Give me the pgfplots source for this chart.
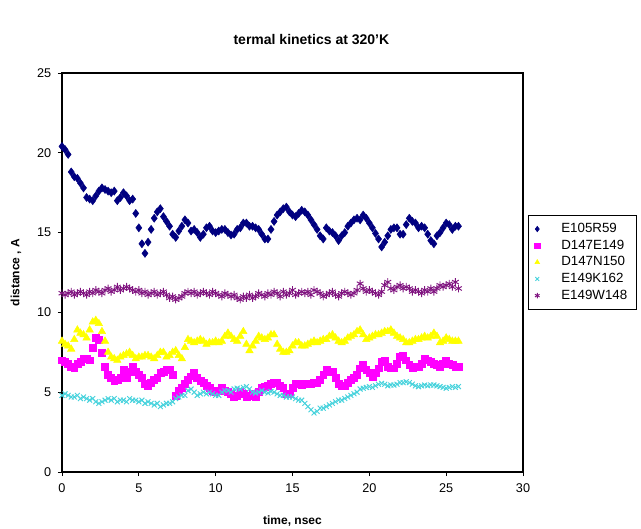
\documentclass[border=0pt]{standalone}
\usepackage{pgfplots}
\pgfplotsset{compat=1.18}
\usepackage{pgfplotstable}
\usepackage{fontspec}
\setmainfont{Liberation Sans}

\definecolor{sNavy}{RGB}{0,0,128}
\definecolor{sMag}{RGB}{255,0,255}
\definecolor{sYel}{RGB}{255,255,0}
\definecolor{sCyan}{RGB}{70,210,220}
\definecolor{sPur}{RGB}{128,20,128}

% time (nsec), then distance (A) for each pair
\pgfplotstableread{
t    E105R59 D147E149 D147N150 E149K162 E149W148
0.0  20.4  7.0   8.2  4.8   11.2
0.2  20.2  6.9   8.0  4.9   11.1
0.4  19.9  6.8   7.9  4.8   11.2
0.6  18.8  6.6   7.7  4.7   11.3
0.8  18.5  6.5   8.3  4.7   11.1
1.0  18.4  6.8   8.9  4.8   11.2
1.2  18.1  6.9   8.7  4.6   11.3
1.4  17.8  7.1   8.6  4.7   11.2
1.6  17.2  7.1   8.4  4.6   11.1
1.8  17.1  7.0   8.9  4.5   11.3
2.0  17.0  7.8   9.4  4.6   11.2
2.2  17.3  8.4   9.5  4.4   11.4
2.4  17.6  8.3   9.3  4.3   11.3
2.6  17.8  7.5   8.8  4.4   11.2
2.8  17.7  6.6   8.2  4.5   11.4
3.0  17.6  6.1   7.5  4.6   11.5
3.2  17.5  5.9   7.2  4.5   11.3
3.4  17.6  5.7   7.1  4.6   11.4
3.6  17.0  5.8   7.0  4.4   11.6
3.8  17.2  5.9   7.2  4.5   11.4
4.0  17.5  6.4   7.3  4.5   11.5
4.2  17.3  5.9   7.4  4.4   11.6
4.4  17.0  6.3   7.5  4.6   11.5
4.6  17.1  6.6   7.3  4.5   11.4
4.8  16.2  6.3   7.1  4.5   11.3
5.0  15.3  6.1   7.2  4.4   11.4
5.2  14.3  5.9   7.2  4.5   11.2
5.4  13.7  5.5   7.3  4.3   11.3
5.6  14.4  5.4   7.3  4.4   11.1
5.8  15.2  5.6   7.2  4.3   11.2
6.0  15.9  5.8   7.1  4.2   11.3
6.2  16.3  5.9   7.3  4.3   11.1
6.4  16.5  6.2   7.5  4.1   11.2
6.6  16.0  6.3   7.5  4.2   11.3
6.8  15.7  6.4   7.2  4.3   11.1
7.0  15.4  6.4   7.3  4.3   10.9
7.2  14.9  6.1   7.5  4.4   11.0
7.4  14.7  4.8   7.6  4.6   10.8
7.6  15.1  5.1   7.3  4.7   10.9
7.8  15.4  5.3   7.1  4.8   11.0
8.0  15.8  5.5   7.8  4.8   11.2
8.2  15.6  5.8   8.3  5.1   11.3
8.4  15.1  6.0   8.2  5.2   11.2
8.6  15.2  6.2   8.1  5.0   11.3
8.8  15.0  5.9   8.2  4.8   11.1
9.0  14.7  5.7   8.3  4.9   11.2
9.2  14.9  5.6   8.2  5.0   11.3
9.4  15.3  5.4   8.0  4.9   11.2
9.6  15.4  5.3   8.1  5.0   11.1
9.8  15.1  5.1   8.1  4.9   11.3
10.0 15.0  5.0   8.2  4.8   11.2
10.2 15.1  5.1   8.1  4.8   11.1
10.4 15.2  5.25  8.2  5.0   11.0
10.6 15.2  5.1   8.5  5.1   11.2
10.8 15.0  5.0   8.7  5.1   11.1
11.0 14.85 4.9   8.5  5.0   11.0
11.2 14.9  4.7   8.3  5.2   11.1
11.4 15.2  4.8   8.2  5.25  10.9
11.6 15.3  5.0   8.5  5.2   10.8
11.8 15.6  4.9   8.8  5.3   11.0
12.0 15.6  4.7   8.0  5.35  10.9
12.2 15.4  4.8   7.6  5.2   11.1
12.4 15.4  4.9   7.9  5.0   10.9
12.6 15.3  4.7   8.2  4.95  11.0
12.8 15.2  5.0   8.5  5.0   11.2
13.0 14.9  5.25  8.4  5.1   11.1
13.2 14.6  5.35  8.3  5.0   11.0
13.4 14.6  5.4   8.4  4.95  11.2
13.6 15.2  5.5   8.6  5.05  11.1
13.8 15.7  5.6   8.6  5.0   11.3
14.0 16.1  5.6   8.0  4.9   11.2
14.2 16.3  5.4   7.7  4.8   11.0
14.4 16.5  5.25  7.5  4.8   11.3
14.6 16.6  4.9   7.5  4.7   11.1
14.8 16.3  4.9   7.6  4.7   11.2
15.0 16.1  5.3   7.9  4.7   11.4
15.2 16.0  5.55  8.1  4.6   11.1
15.4 16.2  5.5   8.1  4.5   11.2
15.6 16.4  5.45  7.9  4.5   11.3
15.8 16.3  5.5   7.9  4.3   11.2
16.0 16.1  5.5   8.0  4.1   11.3
16.2 15.8  5.55  8.1  3.9   11.1
16.4 15.5  5.6   8.2  3.7   11.4
16.6 15.2  5.6   8.1  3.8   11.3
16.8 14.8  5.8   8.2  4.0   11.2
17.0 14.6  6.1   8.3  4.0   11.0
17.2 15.3  6.4   8.3  4.1   11.1
17.4 15.1  6.3   8.5  4.2   11.2
17.6 15.0  6.3   8.6  4.3   11.3
17.8 14.8  5.9   8.4  4.4   11.1
18.0 14.5  5.55  8.2  4.5   11.0
18.2 14.8  5.4   8.1  4.5   11.2
18.4 15.0  5.4   8.2  4.6   11.3
18.6 15.4  5.6   8.4  4.7   11.2
18.8 15.6  5.8   8.5  4.8   11.1
19.0 15.8  5.9   8.6  4.9   11.2
19.2 15.9  6.1   8.8  5.0   11.4
19.4 15.8  6.5   8.9  5.2   11.8
19.6 16.1  6.7   8.6  5.25  11.5
19.8 15.9  6.4   8.3  5.3   11.3
20.0 15.6  6.2   8.4  5.35  11.4
20.2 15.3  5.95  8.5  5.3   11.3
20.4 14.95 6.2   8.6  5.4   11.2
20.6 14.6  6.5   8.6  5.5   11.1
20.8 14.1  6.9   8.7  5.55  11.3
21.0 14.4  7.0   8.8  5.5   11.7
21.2 14.8  6.6   8.8  5.4   11.9
21.4 15.2  6.5   8.9  5.45  11.5
21.6 15.3  6.5   8.7  5.45  11.4
21.8 15.3  6.8   8.5  5.5   11.6
22.0 14.9  7.2   8.4  5.6   11.7
22.2 14.9  7.3   8.3  5.6   11.5
22.4 15.5  7.0   8.1  5.65  11.6
22.6 15.9  6.7   8.1  5.6   11.5
22.8 15.7  6.5   8.2  5.5   11.3
23.0 15.6  6.6   8.3  5.4   11.4
23.2 15.3  6.6   8.3  5.35  11.3
23.4 15.4  6.8   8.4  5.4   11.2
23.6 15.3  7.1   8.5  5.45  11.4
23.8 14.9  7.0   8.4  5.4   11.3
24.0 14.5  6.9   8.5  5.45  11.5
24.2 14.3  6.8   8.7  5.45  11.3
24.4 14.8  6.7   8.5  5.4   11.5
24.6 15.0  6.6   8.1  5.35  11.7
24.8 15.3  6.8   8.2  5.3   11.6
25.0 15.6  7.0   8.4  5.25  11.7
25.2 15.5  6.8   8.3  5.3   11.8
25.4 15.2  6.7   8.2  5.35  11.6
25.6 15.4  6.6   8.2  5.3   11.9
25.8 15.4  6.6   8.2  5.35  11.5
}\kinetics

\begin{document}
\begin{tikzpicture}
\path[use as bounding box] (-46.5pt,-42pt) rectangle (434.25pt,354pt);
\begin{axis}[
  at={(0,0)}, anchor=south west,
  scale only axis, width=345.75pt, height=299.25pt,
  xmin=0, xmax=30, ymin=0, ymax=25,
  xtick={0,5,...,30}, ytick={0,5,...,25},
  xtick pos=bottom, ytick pos=left,
  tick align=outside, major tick length=3pt,
  axis line style={line width=0.9pt},
  tick style={line width=0.6pt, black},
  tick label style={font=\fontsize{9.5}{11}\selectfont},
  xticklabel style={yshift=-2.5pt},
  yticklabel style={xshift=-1.5pt},
  /pgf/number format/assume math mode=true,
  every axis title shift=0pt,
  title={termal kinetics at 320'K},
  title style={font=\fontsize{10.5}{12}\selectfont\bfseries,
    at={(axis description cs:0.541,1.083)}, anchor=center},
  xlabel={time, nsec},
  xlabel style={font=\fontsize{9}{11}\selectfont\bfseries,
    at={(axis description cs:0.5,-0.122)}, anchor=center},
  ylabel={distance , A},
  ylabel style={font=\fontsize{9}{11}\selectfont\bfseries,
    at={(axis description cs:-0.1,0.5)}, anchor=center},
  legend style={at={(1.01,0.644)}, anchor=north west, draw=black,
    line width=0.5pt, font=\fontsize{10}{12}\selectfont,
    row sep=0pt, inner xsep=5pt, inner ysep=4pt,
    /tikz/every odd column/.append style={column sep=14pt}},
  legend cell align=left,
  legend image post style={mark size=2pt},
]
\addplot[only marks, mark=diamond*, mark size=3pt, color=sNavy]
  table[x=t, y=E105R59] {\kinetics};
\addlegendentry{E105R59}
\addplot[only marks, mark=square*, mark size=2.6pt, color=sMag]
  table[x=t, y=D147E149] {\kinetics};
\addlegendentry{D147E149}
\addplot[only marks, mark=triangle*, mark size=3.2pt, color=sYel]
  table[x=t, y=D147N150] {\kinetics};
\addlegendentry{D147N150}
\addplot[only marks, mark=x, mark size=2.6pt, color=sCyan, mark options={line width=0.7pt}]
  table[x=t, y=E149K162] {\kinetics};
\addlegendentry{E149K162}
\addplot[only marks, mark=asterisk, mark size=2.9pt, color=sPur, mark options={line width=0.7pt}]
  table[x=t, y=E149W148] {\kinetics};
\addlegendentry{E149W148}
\end{axis}
\end{tikzpicture}
\end{document}
